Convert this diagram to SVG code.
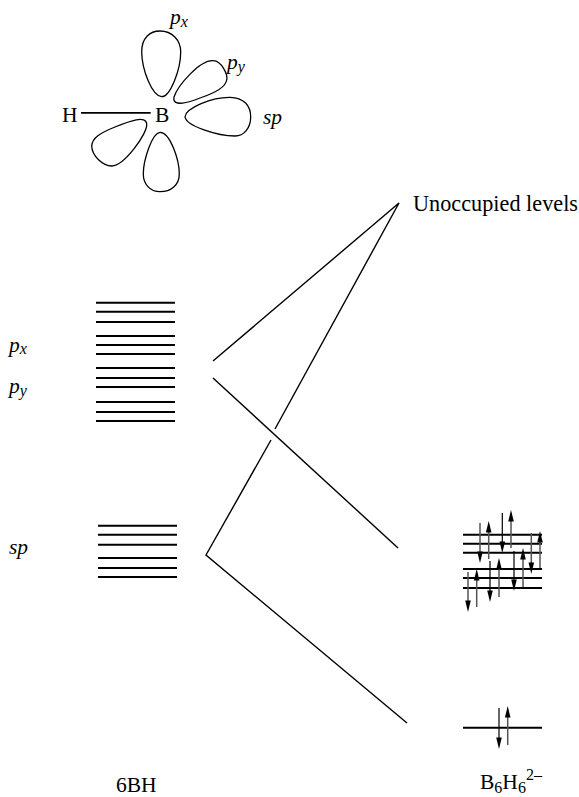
<svg xmlns="http://www.w3.org/2000/svg" width="579" height="797" viewBox="0 0 579 797">
<defs>
<path id="hd" d="M0 0L2.8 11.5L-2.8 11.5Z" fill="#000"/>
</defs>
<style>
text{font-family:"Liberation Serif","Times New Roman",serif;font-size:21.5px;fill:#000}
.i{font-style:italic}
.s{font-size:16px}
.lobe{fill:none;stroke:#000;stroke-width:1.3}
.lv{stroke:#000;stroke-width:2;fill:none}
.c{stroke:#000;stroke-width:1.4;fill:none}
.a{stroke:#555;stroke-width:1.5;fill:none}
.k{stroke:#000;stroke-width:1.2;fill:none}
</style>
<rect width="579" height="797" fill="#fff"/>
<g id="orbitals">
<path class="lobe" d="M161.7 96.7C152 96 142 70 141.7 52C141.5 38 150 31 160 31C172 31 180.7 40 180.7 52C180.7 70 170 97 161.7 96.7Z"/>
<path class="lobe" d="M174 97C178 85 200 60 213 60.7C222 61 228 75 226.7 80C225.5 88 212 94 200 98C190 102 172 108 174 97Z"/>
<path class="lobe" d="M185 116.7C186 108 212 97 230 97.3C244 97.5 250.7 106 250.7 116.7C250.7 128 244 136 235 136C218 136 186 126 185 116.7Z"/>
<path class="lobe" d="M146.7 124C146 115 130 121 115 127C100 133 92 138 91.7 146C92 156 103 166 111.7 166C124 166 148 133 146.7 124Z"/>
<path class="lobe" d="M160 132.3C170 132 179.3 160 179.3 174C179.3 185 171 191.7 160 191.7C150 191.7 143.3 184 143.3 174C143.3 160 152 133 160 132.3Z"/>
<path d="M81 112.8H150.7" stroke="#000" stroke-width="1.8" fill="none"/>
<text x="62" y="122">H</text>
<text x="155" y="122">B</text>
<text class="i" x="170" y="24">p<tspan class="s" dy="2.5">x</tspan></text>
<text class="i" x="227" y="69">p<tspan class="s" dy="2.5">y</tspan></text>
<text class="i" x="263" y="124">sp</text>
</g>
<g id="level-labels">
<text x="413" y="211" textLength="165" style="font-size:22.2px">Unoccupied levels</text>
<text class="i" x="9" y="351.7">p<tspan class="s" dy="2.5">x</tspan></text>
<text class="i" x="9" y="393">p<tspan class="s" dy="2.5">y</tspan></text>
<text class="i" x="9" y="554">sp</text>
<text x="116" y="792">6BH</text>
<text x="480" y="788.5">B<tspan class="s" dy="4">6</tspan><tspan dy="-4">H</tspan><tspan class="s" dy="4">6</tspan><tspan class="s" dy="-13">2–</tspan></text>
</g>
<g id="levels-p">
<path class="lv" d="M96 302.7H175M96 311.7H175M96 322H175M96 336H175M96 345H175M96 354H175M96 368H175M96 378H175M96 387H175M96 402H175M96 412H175M96 421H175"/>
</g>
<g id="levels-sp">
<path class="lv" d="M98 525.7H177M98 534.7H177M98 544.7H177M98 558H177M98 568H177M98 577H177"/>
</g>
<g id="levels-b6h6-mid">
<path class="lv" d="M463 534.7H542M463 543.7H542M463 552.7H542M463 569H542M463 578H542M463 588H542"/>
<path class="a" d="M480 523V553M488.7 559V531M511 548V520M531.3 533V564M540 568V541M468 572V602M476.7 607V579M499 597V568M523 587V558"/>
<path class="k" d="M502.3 513V543M490 561V592M514 551V581"/>
<use href="#hd" transform="translate(480 563) rotate(180)"/>
<use href="#hd" x="488.7" y="521"/>
<use href="#hd" transform="translate(502.3 553) rotate(180)"/>
<use href="#hd" x="511" y="510"/>
<use href="#hd" transform="translate(531.3 574) rotate(180)"/>
<use href="#hd" x="540" y="531"/>
<use href="#hd" transform="translate(468 612) rotate(180)"/>
<use href="#hd" x="476.7" y="569"/>
<use href="#hd" transform="translate(490 602) rotate(180)"/>
<use href="#hd" x="499" y="558"/>
<use href="#hd" transform="translate(514 591) rotate(180)"/>
<use href="#hd" x="523" y="548"/>
</g>
<g id="levels-b6h6-low">
<path class="lv" d="M463 727.7H542"/>
<path class="k" d="M499 708V739"/>
<path class="a" d="M507.7 745V716"/>
<use href="#hd" transform="translate(499 749) rotate(180)"/>
<use href="#hd" x="507.7" y="706"/>
</g>
<g id="connectors">
<path class="c" d="M213 361L399 203L275 429"/>
<path class="c" d="M213 378L398 548"/>
<path class="c" d="M271 440L206 555L407 723"/>
</g>
</svg>
